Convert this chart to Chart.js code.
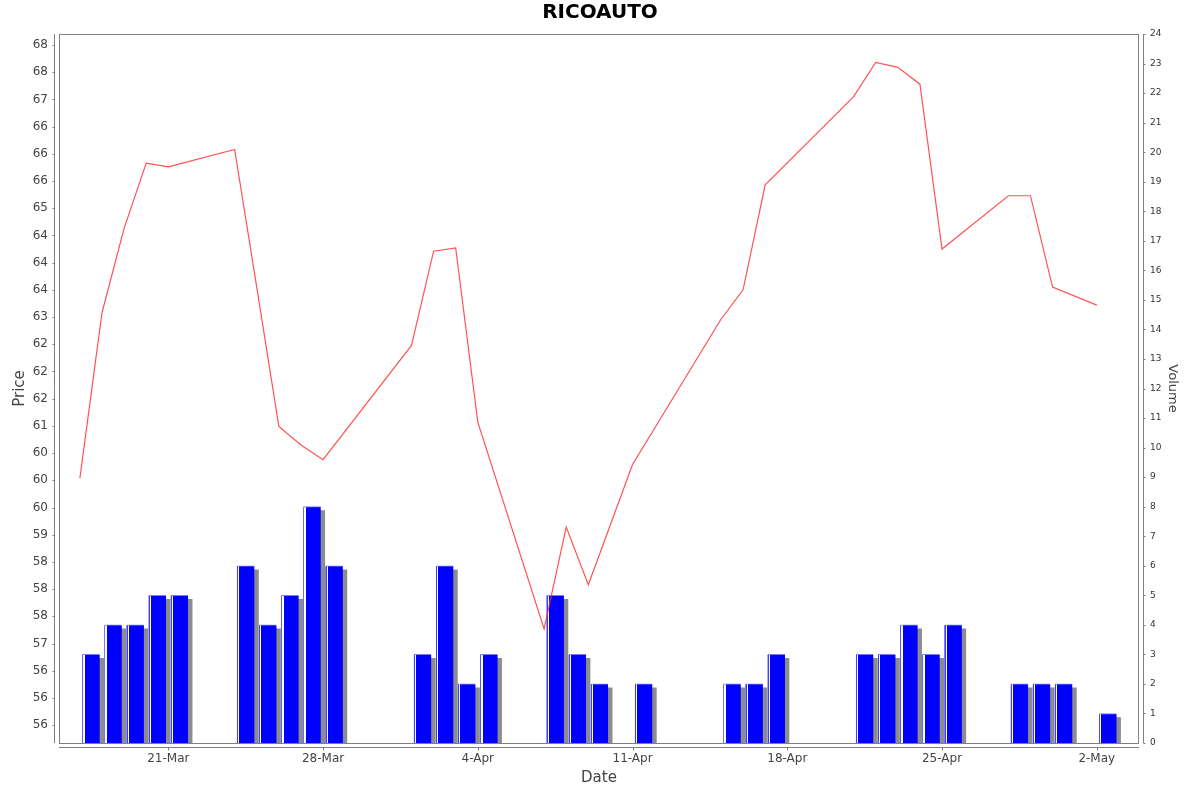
<!DOCTYPE html>
<html>
<head>
<meta charset="utf-8">
<script src="https://cdn.jsdelivr.net/npm/chart.js@4/dist/chart.umd.min.js"></script>
<style>
    body { margin: 0; background: #fff; }
    #wrap { width: 1200px; height: 792px; }
</style>
</head>
<body>
<div id="wrap"><canvas id="stockChart" width="1200" height="792"></canvas></div>
<script>
// day numbers counted from 1-Mar (April = 31 + d, May = 61 + d)
const tradeDays = [17, 18, 19, 20, 21, 24, 25, 26, 27, 28, 32, 33, 34, 35, 38, 39, 40, 42, 46, 47, 48, 52, 53, 54, 55, 56, 59, 60, 61, 63];
const closePrices = [60.04, 63.08, 64.63, 65.83, 65.76, 66.08, 63.55, 60.99, 60.65, 60.38, 62.48, 64.21, 64.27, 61.07, 57.27, 59.14, 58.08, 60.29, 62.96, 63.50, 65.43, 67.05, 67.68, 67.59, 67.28, 64.25, 65.23, 65.23, 63.55, 63.22];
const volumes = [3, 4, 4, 5, 5, 6, 4, 5, 8, 6, 3, 6, 2, 3, 5, 3, 2, 2, 2, 2, 3, 3, 3, 4, 3, 4, 2, 2, 2, 1];

const dateTickDays = [21, 28, 35, 42, 49, 56, 63];
const dateTickLabels = ['21-Mar', '28-Mar', '4-Apr', '11-Apr', '18-Apr', '25-Apr', '2-May'];
const priceTicks = [55.5, 56, 56.5, 57, 57.5, 58, 58.5, 59, 59.5, 60, 60.5, 61, 61.5, 62, 62.5, 63, 63.5, 64, 64.5, 65, 65.5, 66, 66.5, 67, 67.5, 68];
const volumeTicks = [0, 1, 2, 3, 4, 5, 6, 7, 8, 9, 10, 11, 12, 13, 14, 15, 16, 17, 18, 19, 20, 21, 22, 23, 24];

const FONT = 'DejaVu Sans';
const AXIS_GREY = '#808080';
const BAR_WIDTH = 17.5;

// price labels are rounded half-even, so 56.5 -> 56, 57.5 -> 58
const roundHalfEven = (v) => {
    const f = Math.floor(v);
    if (Math.abs(v - f - 0.5) < 1e-9) {
        return f % 2 === 0 ? f : f + 1;
    }
    return Math.round(v);
};

// plot frame plus axis lines sitting 4px away from it, like the original
const frameAndAxes = {
    id: 'frameAndAxes',
    afterDatasetsDraw(chart) {
        const { ctx, chartArea: a, scales } = chart;
        ctx.save();
        ctx.strokeStyle = AXIS_GREY;
        ctx.lineWidth = 1;
        ctx.strokeRect(a.left + 0.5, a.top + 0.5, a.right - a.left - 1, a.bottom - a.top);

        ctx.beginPath();
        // left axis
        ctx.moveTo(a.left - 4.5, a.top);
        ctx.lineTo(a.left - 4.5, a.bottom);
        scales.y.ticks.forEach((t) => {
            const py = Math.round(scales.y.getPixelForValue(t.value)) + 0.5;
            ctx.moveTo(a.left - 6.5, py);
            ctx.lineTo(a.left - 4.5, py);
        });
        // right axis
        ctx.moveTo(a.right + 4.5, a.top);
        ctx.lineTo(a.right + 4.5, a.bottom);
        scales.y1.ticks.forEach((t) => {
            const py = Math.round(scales.y1.getPixelForValue(t.value)) + 0.5;
            ctx.moveTo(a.right + 4.5, py);
            ctx.lineTo(a.right + 6.5, py);
        });
        // bottom axis
        ctx.moveTo(a.left, a.bottom + 4.5);
        ctx.lineTo(a.right, a.bottom + 4.5);
        scales.x.ticks.forEach((t) => {
            const px = Math.round(scales.x.getPixelForValue(t.value)) + 0.5;
            ctx.moveTo(px, a.bottom + 4.5);
            ctx.lineTo(px, a.bottom + 7.5);
        });
        ctx.stroke();
        ctx.restore();
    },
};

// the grey copy of the volume bars is pushed 4px right and down to act as a drop shadow
const barShadow = {
    id: 'barShadow',
    beforeDatasetDraw(chart, args) {
        if (args.meta.label !== 'VolumeShadow') {
            return;
        }
        const { ctx, chartArea: a } = chart;
        ctx.save();
        ctx.beginPath();
        ctx.rect(a.left, a.top, a.right - a.left, a.bottom - a.top);
        ctx.clip();
        ctx.translate(4, 4);
    },
    afterDatasetDraw(chart, args) {
        if (args.meta.label !== 'VolumeShadow') {
            return;
        }
        chart.ctx.restore();
    },
};

// blue bar with a thin light edge and a white sliver on its left side
const barFill = (context) => {
    const chart = context.chart;
    if (!chart.chartArea || !context.raw) {
        return '#0000ff';
    }
    const left = chart.scales.x.getPixelForValue(context.raw.x) - BAR_WIDTH / 2;
    const g = chart.ctx.createLinearGradient(left, 0, left + BAR_WIDTH, 0);
    const s1 = 1.2 / BAR_WIDTH;
    const s2 = 2.4 / BAR_WIDTH;
    g.addColorStop(0, '#3c3cff');
    g.addColorStop(s1, '#3c3cff');
    g.addColorStop(s1, '#ffffff');
    g.addColorStop(s2, '#ffffff');
    g.addColorStop(s2, '#0000ff');
    g.addColorStop(1, '#0000ff');
    return g;
};

// each bar covers its trading day, so it sits half a day right of the date
const volumePoints = tradeDays.map((d, i) => ({ x: d + 0.5, y: volumes[i] }));

const canvas = document.getElementById('stockChart');
new Chart(canvas, {
    data: {
        datasets: [{
                type: 'line',
                label: 'Price',
                data: tradeDays.map((d, i) => ({ x: d, y: closePrices[i] })),
                yAxisID: 'y',
                borderColor: 'rgba(255, 40, 40, 0.8)',
                borderWidth: 1.2,
                pointRadius: 0,
                tension: 0,
                fill: false,
                order: 1,
            },
            {
                type: 'bar',
                label: 'Volume',
                data: volumePoints,
                yAxisID: 'y1',
                backgroundColor: barFill,
                borderColor: '#7a7aff',
                borderWidth: { left: 0, top: 1, right: 0, bottom: 0 },
                borderSkipped: false,
                barThickness: BAR_WIDTH,
                grouped: false,
                order: 2,
            },
            {
                type: 'bar',
                label: 'VolumeShadow',
                data: volumePoints,
                yAxisID: 'y1',
                backgroundColor: '#8c8c8c',
                borderWidth: 0,
                barThickness: BAR_WIDTH,
                grouped: false,
                order: 3,
            },
        ],
    },
    options: {
        responsive: false,
        animation: false,
        layout: { padding: 0 },
        plugins: {
            legend: { display: false },
            tooltip: { enabled: false },
            title: {
                display: true,
                text: 'RICOAUTO',
                color: '#000',
                font: { family: FONT, size: 20, weight: 'bold' },
                padding: { top: 1, bottom: 9 },
            },
        },
        scales: {
            x: {
                type: 'linear',
                position: 'bottom',
                offset: false,
                min: 16.055,
                max: 64.91,
                afterBuildTicks: (scale) => {
                    scale.ticks = dateTickDays.map((v) => ({ value: v }));
                },
                afterFit: (scale) => {
                    scale.height = 49;
                },
                grid: { display: false, drawTicks: false },
                border: { display: false },
                ticks: {
                    autoSkip: false,
                    maxRotation: 0,
                    padding: 9,
                    color: '#444',
                    font: { family: FONT, size: 12 },
                    callback: (value) => {
                        const idx = dateTickDays.indexOf(value);
                        return idx >= 0 ? dateTickLabels[idx] : '';
                    },
                },
                title: {
                    display: true,
                    text: 'Date',
                    color: '#444',
                    font: { family: FONT, size: 15 },
                    padding: { top: 0, bottom: 5 },
                },
            },
            y: {
                type: 'linear',
                position: 'left',
                min: 55.173,
                max: 68.202,
                afterBuildTicks: (scale) => {
                    scale.ticks = priceTicks.map((v) => ({ value: v }));
                },
                afterFit: (scale) => {
                    scale.width = 59;
                },
                grid: { display: false, drawTicks: false },
                border: { display: false },
                ticks: {
                    autoSkip: false,
                    padding: 11,
                    color: '#444',
                    font: { family: FONT, size: 12 },
                    callback: (value) => String(roundHalfEven(value)),
                },
                title: {
                    display: true,
                    text: 'Price',
                    color: '#444',
                    font: { family: FONT, size: 15 },
                    padding: { top: 11, bottom: 0 },
                },
            },
            y1: {
                type: 'linear',
                position: 'right',
                min: 0,
                max: 24,
                afterBuildTicks: (scale) => {
                    scale.ticks = volumeTicks.map((v) => ({ value: v }));
                },
                afterFit: (scale) => {
                    scale.width = 61;
                },
                grid: { display: false, drawTicks: false },
                border: { display: false },
                ticks: {
                    autoSkip: false,
                    padding: 11,
                    color: '#333',
                    font: { family: FONT, size: 9 },
                },
                title: {
                    display: true,
                    text: 'Volume',
                    color: '#444',
                    font: { family: FONT, size: 13 },
                    padding: { top: 20, bottom: 0 },
                },
            },
        },
    },
    plugins: [barShadow, frameAndAxes],
});
</script>
</body>
</html>
